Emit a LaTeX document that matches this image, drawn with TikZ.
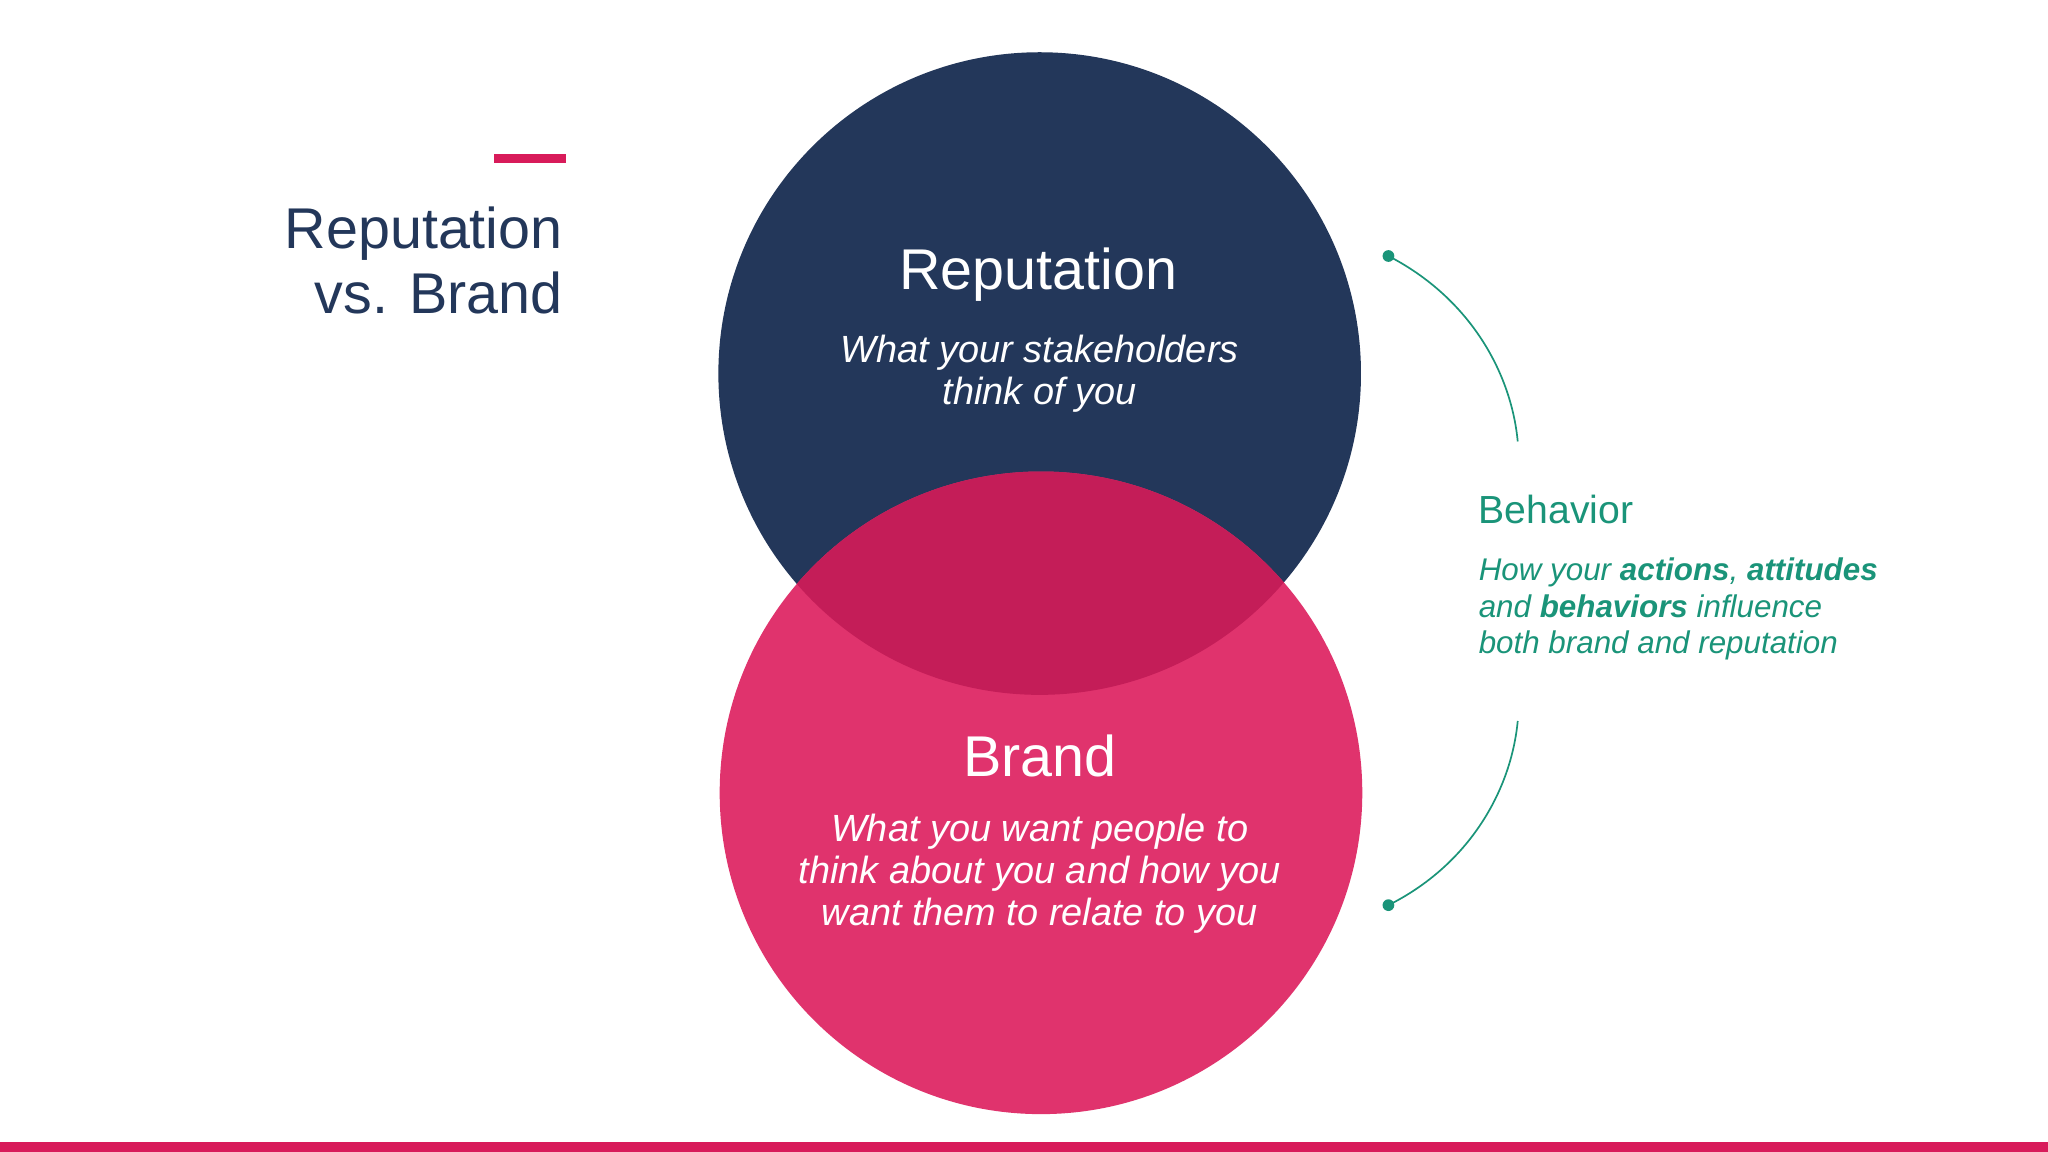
\documentclass[tikz,border=0pt]{standalone}
\usepackage{fontspec}
\setmainfont{Liberation Sans}
\definecolor{navy}{HTML}{23375A}
\definecolor{pinkc}{HTML}{E0336D}
\definecolor{overl}{HTML}{C41D58}
\definecolor{tealc}{HTML}{1A9479}
\definecolor{redbar}{HTML}{D81B5A}
\begin{document}
\begin{tikzpicture}[x=1pt,y=-1pt,
  big/.style={text=white,font=\fontsize{44}{50}\selectfont,inner sep=0},
  sub/.style={text=white,font=\fontsize{29}{32}\selectfont\itshape,align=center,inner sep=0},
  conn/.style={tealc,line width=1.3pt},
  dot/.style={circle,fill=tealc,inner sep=0,minimum size=9pt}]
\useasboundingbox[fill=white] (0,0) rectangle (1568,882);
\fill[redbar] (378,118) rectangle (433,125);
\fill[redbar] (0,874) rectangle (1568,882);
\node[anchor=north east,align=right,text=navy,font=\fontsize{44}{50}\selectfont,inner sep=0] (title) at (431,158) {Reputation\\vs. Brand};
\fill[navy] (796,286) circle (246);
\fill[pinkc] (797,607) circle (246);
\begin{scope}
\clip (796,286) circle (246);
\fill[overl] (797,607) circle (246);
\end{scope}
\node[big] (rep) at (795,210) {Reputation};
\node[sub] (reps) at (796,286) {What your stakeholders\\think of you};
\node[big] (brand) at (796,579) {Brand};
\node[sub] (brands) at (796,669) {What you want people to\\think about you and how you\\want them to relate to you};
\node[anchor=west,text=tealc,font=\fontsize{30}{34}\selectfont,inner sep=0] (beh) at (1132,390) {Behavior};
\node[anchor=north west,align=left,text=tealc,font=\fontsize{24}{28}\selectfont\itshape,inner sep=0] (behs) at (1132,427) {How your \textbf{actions}, \textbf{attitudes}\\and \textbf{behaviors} influence\\both brand and reputation};
\node[dot] (d1) at (1063,196) {};
\node[dot] (d2) at (1063,693) {};
\coordinate (e1) at (1162,338);
\coordinate (e2) at (1162,552);
\draw[conn] (d1.center) .. controls (1125,228) and (1157,285) .. (e1);
\draw[conn] (e2) .. controls (1157,605) and (1125,662) .. (d2.center);
\end{tikzpicture}
\end{document}
